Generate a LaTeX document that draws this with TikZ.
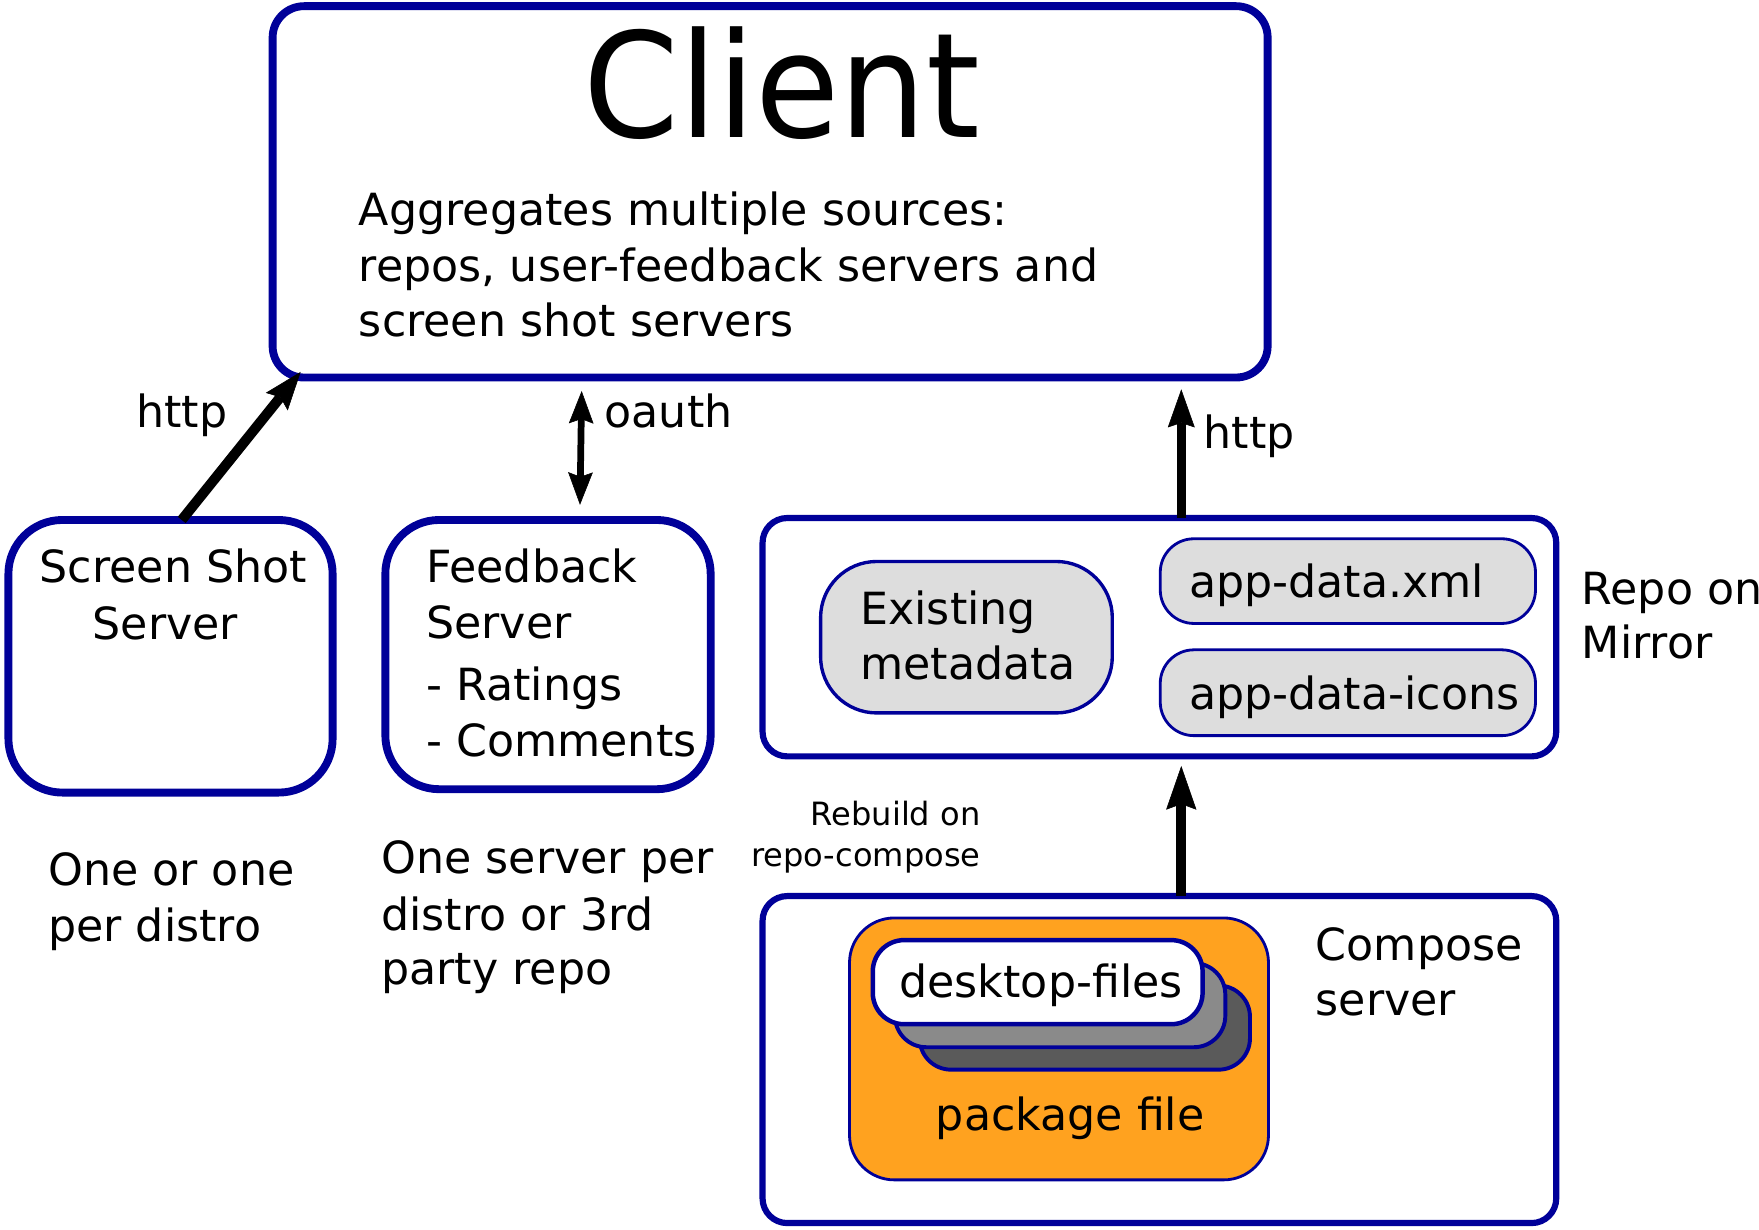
\documentclass[tikz,border=0pt]{standalone}
\usepackage{fontspec}
\setmainfont{DejaVu Sans}
\newfontfamily\clientfont{DejaVu Sans}[FakeStretch=0.94]
\usetikzlibrary{arrows.meta,calc}
\definecolor{bblue}{RGB}{0,0,153}
\definecolor{lgray}{RGB}{221,221,221}
\definecolor{orng}{RGB}{255,162,31}
\definecolor{mgray}{RGB}{138,138,138}
\definecolor{dgray}{RGB}{90,90,90}
\begin{document}
\begin{tikzpicture}[x=1pt,y=-1pt,
  box/.style={draw=bblue, rectangle, inner sep=0pt, outer sep=0pt},
  txt/.style={inner sep=0pt, outer sep=0pt, font=\fontsize{39.5}{47}\selectfont, anchor=base west},
  ctxt/.style={txt, anchor=base},
  smalltxt/.style={inner sep=0pt, outer sep=0pt, font=\fontsize{28.6}{34}\selectfont, anchor=base east},
  arr/.style={line width=9pt, -{Stealth[length=34pt,width=25pt,inset=5pt,line width=0.5pt]}},
]
\fill[white] (0,0) rectangle (1568,1096);
\useasboundingbox (0,0) rectangle (1568,1096);

% boxes
\node[box, line width=7pt, rounded corners=28pt, minimum width=887pt, minimum height=331pt] (client) at (686.5,171) {};
\node[box, line width=7pt, rounded corners=48pt, minimum width=289pt, minimum height=243pt] (ss) at (152,585) {};
\node[box, line width=7pt, rounded corners=48pt, minimum width=290pt, minimum height=240pt] (fb) at (488.5,583.5) {};
\node[box, line width=5.5pt, rounded corners=22pt, minimum width=707.5pt, minimum height=212.5pt] (repo) at (1033.5,568) {};
\node[box, line width=5.5pt, rounded corners=22pt, minimum width=707.5pt, minimum height=291.5pt] (compose) at (1033.5,944.5) {};
\node[box, line width=3pt, fill=lgray, rounded corners=50pt, minimum width=260pt, minimum height=135pt] (exist) at (861.5,568) {};
\node[box, line width=2.5pt, fill=lgray, rounded corners=30pt, minimum width=334.5pt, minimum height=75.5pt] (xml) at (1201.5,518) {};
\node[box, line width=2.5pt, fill=lgray, rounded corners=30pt, minimum width=334.5pt, minimum height=76.5pt] (icons) at (1201.5,617.5) {};
\node[box, line width=2.5pt, fill=orng, rounded corners=40pt, minimum width=373.5pt, minimum height=233.5pt] (pkg) at (944,935) {};
\node[box, line width=3.5pt, fill=dgray, rounded corners=28pt, minimum width=294.5pt, minimum height=75pt] (st3) at (967,916) {};
\node[box, line width=3.5pt, fill=mgray, rounded corners=28pt, minimum width=294.5pt, minimum height=75pt] (st2) at (945,896) {};
\node[box, line width=4pt, fill=white, rounded corners=28pt, minimum width=294pt, minimum height=75pt] (desk) at (925,875.5) {};

% texts
\node[ctxt, font=\clientfont\fontsize{130}{150}\selectfont] (tclient) at (697,123) {Client};
\node[txt] (agg1) at (320,201) {Aggregates multiple sources:};
\node[txt] (agg2) at (320,251) {repos, user-feedback servers and};
\node[txt] (agg3) at (320,300) {screen shot servers};

\node[ctxt] (lhttp1) at (162,381) {http};
\node[txt] (loauth) at (539,381) {oauth};
\node[txt] (lhttp2) at (1073,400) {http};

\node[ctxt] (ss1) at (154.5,519) {Screen Shot};
\node[ctxt] (ss2) at (147.5,570) {Server};

\node[txt] (fb1) at (380,519) {Feedback};
\node[txt] (fb2) at (380,569) {Server};
\node[txt] (fb3) at (380,624) {- Ratings};
\node[txt] (fb4) at (380,674) {- Comments};

\node[txt] (one1) at (43,789) {One or one};
\node[txt] (one2) at (43,839) {per distro};

\node[txt] (osp1) at (340,779) {One server per};
\node[txt] (osp2) at (340,829) {distro or 3rd};
\node[txt] (osp3) at (340,878) {party repo};

\node[txt] (ex1) at (767,557) {Existing};
\node[txt] (ex2) at (767,606) {metadata};
\node[txt] (txml) at (1060,533) {app-data.xml};
\node[txt] (ticons) at (1060,632) {app-data-icons};

\node[txt] (rm1) at (1410,539) {Repo on};
\node[txt] (rm2) at (1410,587) {Mirror};

\node[smalltxt] (rb1) at (874,736) {Rebuild on};
\node[smalltxt] (rb2) at (874,772) {repo-compose};

\node[ctxt] (tdesk) at (928,889) {desktop-files};
\node[ctxt] (tpkg) at (954,1008) {package file};

\node[txt] (cs1) at (1173,856) {Compose};
\node[txt] (cs2) at (1173,905) {server};

% connectors
\coordinate (h1s) at ($(ss.north)+(10,0)$);
\coordinate (h1e) at ($(client.south west)+(25,-5)$);
\draw[arr] (h1s) -- (h1e);

\coordinate (oa1) at ($(client.south)+(-168,12)$);
\coordinate (oa2) at ($(fb.north)+(28.5,-13.5)$);
\draw[line width=6pt, {Stealth[length=29pt,width=22pt,inset=4pt,line width=0.5pt]}-{Stealth[length=29pt,width=22pt,inset=4pt,line width=0.5pt]}] (oa2) -- (oa1);

\coordinate (h2s) at ($(repo.north)+(19.5,0)$);
\coordinate (h2e) at ($(h2s |- client.south)+(0,10.5)$);
\draw[line width=8pt, -{Stealth[length=34pt,width=24pt,inset=4pt,line width=0.5pt]}] (h2s) -- (h2e);

\coordinate (rbs) at ($(compose.north)+(19.5,0)$);
\coordinate (rbe) at ($(rbs |- repo.south)+(0,8.5)$);
\draw[line width=9pt, -{Stealth[length=39pt,width=27pt,inset=5pt,line width=0.5pt]}] (rbs) -- (rbe);
\end{tikzpicture}
\end{document}
